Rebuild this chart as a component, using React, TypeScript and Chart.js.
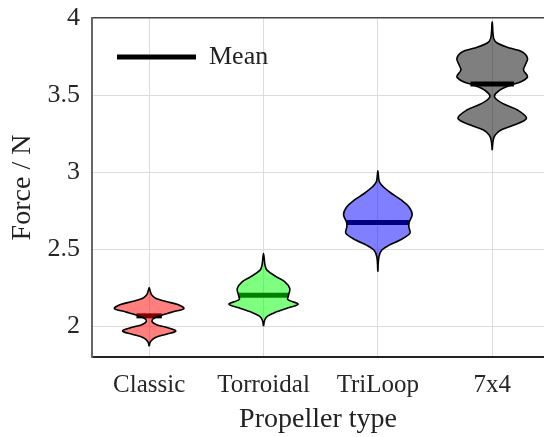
import React, { useEffect, useRef } from "react";
import { Chart, registerables } from "chart.js";

Chart.register(...registerables);

const categories = ["Classic", "Torroidal", "TriLoop", "7x4"];

// Violin outlines: force samples (bottom -> top) and half widths (category units)
const classicForce = [1.870, 1.900, 1.925, 1.948, 1.968, 1.988, 2.008, 2.025, 2.040, 2.055, 2.071, 2.093, 2.115, 2.140, 2.160, 2.180, 2.200, 2.225, 2.251];
const classicWidth = [0, 0.012, 0.05, 0.15, 0.233, 0.17, 0.07, 0.03, 0.026, 0.05, 0.11, 0.21, 0.304, 0.25, 0.15, 0.06, 0.025, 0.01, 0];

const torroidalForce = [2.000, 2.039, 2.065, 2.093, 2.115, 2.143, 2.173, 2.201, 2.245, 2.288, 2.320, 2.364, 2.396, 2.472];
const torroidalWidth = [0, 0.01, 0.035, 0.114, 0.2, 0.303, 0.212, 0.219, 0.23, 0.187, 0.114, 0.03, 0.013, 0];

const triloopForce = [2.353, 2.450, 2.494, 2.526, 2.558, 2.602, 2.645, 2.673, 2.725, 2.775, 2.818, 2.861, 2.905, 2.937, 3.009];
const triloopWidth = [0, 0.009, 0.035, 0.1, 0.19, 0.28, 0.271, 0.273, 0.30, 0.271, 0.207, 0.12, 0.047, 0.013, 0];

const sevenFourForce = [3.143, 3.208, 3.240, 3.273, 3.305, 3.349, 3.403, 3.446, 3.485, 3.511, 3.543, 3.571, 3.586, 3.619, 3.662, 3.695, 3.738, 3.781, 3.803, 3.836, 3.868, 3.976];
const sevenFourWidth = [0, 0.009, 0.026, 0.076, 0.19, 0.30, 0.222, 0.09, 0.022, 0.032, 0.09, 0.19, 0.251, 0.309, 0.274, 0.289, 0.309, 0.26, 0.163, 0.047, 0.013, 0];

const meanValues = [2.067, 2.201, 2.673, 3.571];
const meanHalfWidths = [0.111, 0.219, 0.273, 0.19];

const violinColors = [
  "rgba(255,0,0,0.5)",
  "rgba(0,255,0,0.5)",
  "rgba(0,0,255,0.5)",
  "rgba(0,0,0,0.5)",
];

const yTicks = [2, 2.5, 3, 3.5, 4];

const FONT = "'Liberation Serif', 'Times New Roman', serif";

function outline(center: number, force: number[], width: number[]) {
  const pts: { x: number; y: number }[] = [];
  for (let k = 0; k < force.length; k++) pts.push({ x: center + width[k], y: force[k] });
  for (let k = force.length - 2; k >= 0; k--) pts.push({ x: center - width[k], y: force[k] });
  return pts;
}

const violinFillPlugin = {
  id: "violinFill",
  beforeDatasetDraw(chart: any, args: any) {
    const ds = chart.data.datasets[args.index];
    if (!ds.violinFill) return;
    const line = args.meta.dataset;
    if (!line || !line.points || !line.points.length) return;
    const ctx = chart.ctx;
    line.updateControlPoints(chart.chartArea, "x");
    ctx.save();
    ctx.beginPath();
    line.path(ctx);
    ctx.closePath();
    ctx.fillStyle = ds.violinFill;
    ctx.fill();
    ctx.restore();
  },
};

export default function App() {
  const ref = useRef<HTMLCanvasElement | null>(null);

  useEffect(() => {
    if (!ref.current) return;
    const profiles = [
      [classicForce, classicWidth],
      [torroidalForce, torroidalWidth],
      [triloopForce, triloopWidth],
      [sevenFourForce, sevenFourWidth],
    ];
    const violinSets = profiles.map(([f, w], i) => ({
      label: categories[i],
      data: outline(i, f as number[], w as number[]),
      borderColor: "#000",
      borderWidth: 1.6,
      backgroundColor: violinColors[i],
      violinFill: violinColors[i],
      fill: false,
      tension: 0.35,
      pointRadius: 0,
      pointHoverRadius: 0,
    }));
    const meanSets = meanValues.map((m, i) => ({
      label: "Mean",
      data: [
        { x: i - meanHalfWidths[i], y: m },
        { x: i + meanHalfWidths[i], y: m },
      ],
      borderColor: "#000",
      borderWidth: 5,
      borderCapStyle: "butt",
      fill: false,
      tension: 0,
      pointRadius: 0,
      pointHoverRadius: 0,
    }));

    const chart = new Chart(ref.current, {
      type: "line",
      data: { datasets: [...violinSets, ...meanSets] as any },
      options: {
        animation: false,
        responsive: false,
        events: [],
        layout: { padding: { top: 18, right: 0, left: 0, bottom: 0 } },
        plugins: {
          tooltip: { enabled: false },
          legend: {
            position: "chartArea" as any,
            align: "start",
            onClick: () => {},
            title: {
              display: true,
              text: " ",
              font: { size: 10 },
              padding: { top: 7, bottom: 0 },
            },
            labels: {
              boxWidth: 79,
              boxHeight: 5,
              padding: 25,
              color: "#222",
              font: { family: FONT, size: 26 },
              generateLabels: () => [
                {
                  text: "Mean",
                  fillStyle: "#000",
                  strokeStyle: "#000",
                  fontColor: "#222",
                  lineWidth: 0,
                  hidden: false,
                  datasetIndex: 4,
                } as any,
              ],
            },
          },
        },
        scales: {
          x: {
            type: "linear",
            min: -0.5,
            max: 3.453,
            afterBuildTicks: (scale: any) => {
              scale.ticks = categories.map((_, i) => ({ value: i }));
            },
            afterFit: (scale: any) => {
              scale.height = 80;
              scale.paddingLeft = 0;
              scale.paddingRight = 0;
            },
            ticks: {
              padding: 13,
              color: "#262626",
              font: { family: FONT, size: 25 },
              callback: (v: any) => categories[Math.round(Number(v))] ?? "",
            },
            grid: { color: "#dcdcdc", lineWidth: 1, drawTicks: false },
            border: { display: true, color: "#222", width: 2 },
            title: {
              display: true,
              text: "Propeller type",
              color: "#222",
              font: { family: FONT, size: 28 },
              padding: { top: 0, bottom: 1 },
            },
          },
          y: {
            type: "linear",
            min: 1.8,
            max: 4,
            afterBuildTicks: (scale: any) => {
              scale.ticks = yTicks.map((v) => ({ value: v }));
            },
            afterFit: (scale: any) => {
              scale.width = 92;
              scale.paddingTop = 0;
              scale.paddingBottom = 0;
            },
            ticks: {
              padding: 12,
              color: "#262626",
              font: { family: FONT, size: 26 },
              callback: (v: any) => String(v),
            },
            grid: {
              color: (c: any) => (c.tick && c.tick.value === 4 ? "#444" : "#dcdcdc"),
              lineWidth: (c: any) => (c.tick && c.tick.value === 4 ? 1.5 : 1),
              drawTicks: false,
            },
            border: { display: true, color: "#666", width: 2 },
            title: {
              display: true,
              text: "Force / N",
              color: "#222",
              font: { family: FONT, size: 28 },
              padding: { top: 5.5, bottom: 0 },
            },
          },
        },
      },
      plugins: [violinFillPlugin],
    });
    return () => chart.destroy();
  }, []);

  return (
    <canvas
      ref={ref}
      width={544}
      height={437}
      style={{ position: "fixed", left: 0, top: 0, width: 544, height: 437, display: "block" }}
    />
  );
}
